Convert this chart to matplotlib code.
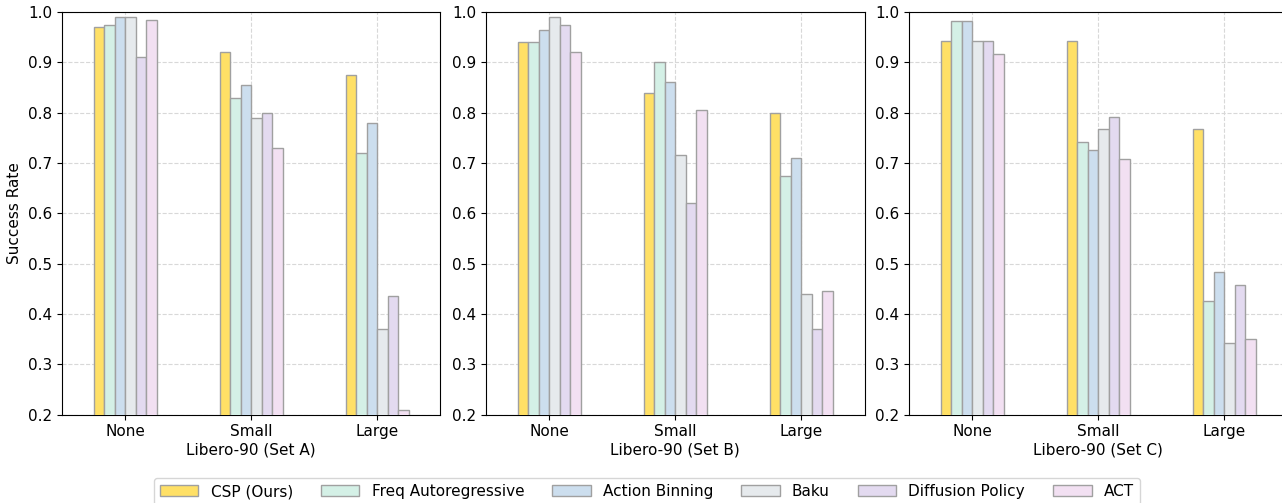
import numpy as np
import matplotlib
matplotlib.use("Agg")
import matplotlib.pyplot as plt

methods = ["CSP (Ours)", "Freq Autoregressive", "Action Binning", "Baku", "Diffusion Policy", "ACT"]
colors = ["#FFE066", "#D4F0E6", "#CCDEEE", "#E6EAED", "#E3DAF0", "#F2E0F2"]
levels = ["None", "Small", "Large"]
panel_titles = ["Libero-90 (Set A)", "Libero-90 (Set B)", "Libero-90 (Set C)"]

# rows = methods, cols = None / Small / Large
set_a = [
    [0.970, 0.920, 0.875],
    [0.975, 0.830, 0.720],
    [0.990, 0.855, 0.780],
    [0.990, 0.790, 0.370],
    [0.910, 0.800, 0.435],
    [0.985, 0.730, 0.210],
]
set_b = [
    [0.940, 0.840, 0.800],
    [0.940, 0.900, 0.675],
    [0.965, 0.860, 0.710],
    [0.990, 0.715, 0.440],
    [0.975, 0.620, 0.370],
    [0.920, 0.805, 0.445],
]
set_c = [
    [0.942, 0.942, 0.767],
    [0.983, 0.742, 0.425],
    [0.983, 0.725, 0.483],
    [0.942, 0.767, 0.342],
    [0.942, 0.792, 0.458],
    [0.917, 0.708, 0.350],
]
all_sets = [set_a, set_b, set_c]

W, H = 1282, 503
fig = plt.figure(figsize=(W / 100, H / 100), dpi=100)
plt.rcParams["font.size"] = 11

lefts = [62, 486, 909]
aw = 378.5
bottom = (H - 414.7) / H
top = (H - 12) / H

x = np.arange(len(levels))
bw = 0.5 / len(methods)

for k, data in enumerate(all_sets):
    ax = fig.add_axes([lefts[k] / W, bottom, aw / W, top - bottom])
    for i, m in enumerate(methods):
        ax.bar(x + (i - 2.5) * bw, data[i], bw, bottom=0, color=colors[i],
               edgecolor="#A0A0A0", linewidth=1, label=m, zorder=3)
    ax.set_xlim(-0.5, 2.5)
    ax.set_ylim(0.2, 1.0)
    ax.set_xticks(x)
    ax.set_xticklabels(levels, fontsize=11)
    ax.tick_params(axis="y", labelsize=11)
    ax.set_xlabel(panel_titles[k], fontsize=11, labelpad=2)
    ax.grid(True, linestyle="--", color="#D8D8D8", linewidth=0.8, zorder=0)
    ax.set_axisbelow(True)
    if k == 0:
        ax.set_ylabel("Success Rate", fontsize=11)
        handles, labels = ax.get_legend_handles_labels()

fig.legend(handles, labels, loc="upper center", ncol=6,
           bbox_to_anchor=(647 / W, 1 - 478 / H), borderaxespad=0, fontsize=11,
           frameon=True, handlelength=2.5, columnspacing=1.85)

fig.savefig("out.png", dpi=100)
